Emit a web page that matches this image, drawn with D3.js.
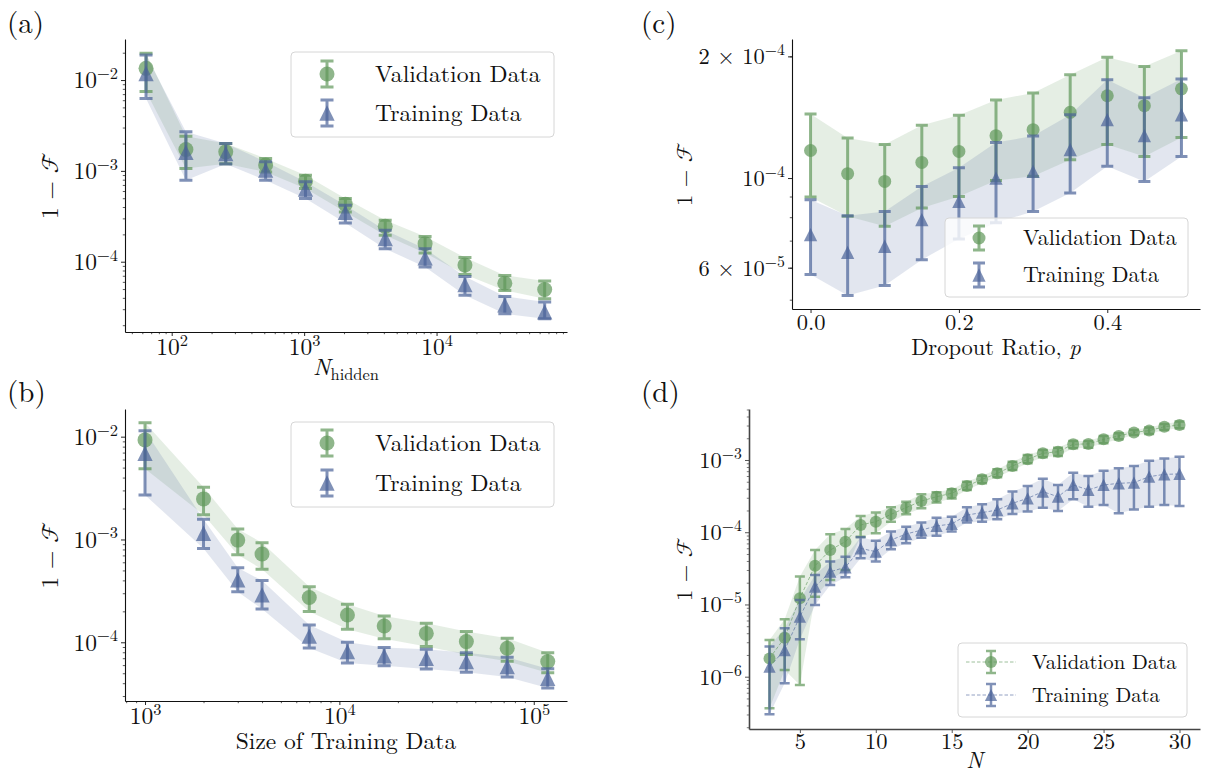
<!DOCTYPE html>
<html>
<head>
<meta charset="utf-8">
<script src="https://cdn.jsdelivr.net/npm/d3@7"></script>
<style>
  body { margin: 0; background: #fff; }
  svg { display: block; }
</style>
</head>
<body>
<svg id="fig" width="1206" height="776"></svg>
<script>
// ---------- (a) infidelity vs hidden-layer width ----------
const hiddenSizes  = [64, 128, 256, 512, 1024, 2048, 4096, 8192, 16384, 32768, 65536];
const hidValMean   = [1.345e-2, 1.72e-3, 1.62e-3, 1.16e-3, 7.7e-4, 4.3e-4, 2.45e-4, 1.58e-4, 9.2e-5, 5.8e-5, 4.95e-5];
const hidValLo     = [7.5e-3, 1.06e-3, 1.2e-3, 9.75e-4, 6.38e-4, 3.53e-4, 1.95e-4, 1.25e-4, 7.24e-5, 4.83e-5, 3.91e-5];
const hidValHi     = [1.97e-2, 2.4e-3, 2.0e-3, 1.37e-3, 8.96e-4, 4.95e-4, 2.86e-4, 1.9e-4, 1.11e-4, 7.07e-5, 6.12e-5];
const hidTrainMean = [1.18e-2, 1.6e-3, 1.55e-3, 1.02e-3, 6.3e-4, 3.5e-4, 1.8e-4, 1.1e-4, 5.6e-5, 3.35e-5, 2.8e-5];
const hidTrainLo   = [6.28e-3, 7.89e-4, 1.19e-3, 7.89e-4, 4.95e-4, 2.67e-4, 1.39e-4, 8.73e-5, 4.26e-5, 2.67e-5, 2.35e-5];
const hidTrainHi   = [1.89e-2, 2.69e-3, 2.0e-3, 1.26e-3, 7.57e-4, 4.18e-4, 2.22e-4, 1.39e-4, 6.89e-5, 4.15e-5, 3.59e-5];

// ---------- (b) infidelity vs training-set size ----------
const dataSizes     = [1000, 2000, 3000, 4000, 7000, 11000, 17000, 28000, 45000, 73000, 118000];
const sizeValMean   = [9.3e-3, 2.48e-3, 9.86e-4, 7.22e-4, 2.73e-4, 1.84e-4, 1.44e-4, 1.22e-4, 1.015e-4, 8.74e-5, 6.49e-5];
const sizeValLo     = [4.88e-3, 1.74e-3, 7.1e-4, 5.14e-4, 1.99e-4, 1.34e-4, 1.08e-4, 9.1e-5, 7.6e-5, 6.54e-5, 5.05e-5];
const sizeValHi     = [1.368e-2, 3.22e-3, 1.262e-3, 9.3e-4, 3.47e-4, 2.34e-4, 1.8e-4, 1.53e-4, 1.27e-4, 1.094e-4, 7.93e-5];
const sizeTrainMean = [6.89e-3, 1.15e-3, 4.04e-4, 2.89e-4, 1.15e-4, 8.11e-5, 7.36e-5, 6.98e-5, 6.48e-5, 5.8e-5, 4.47e-5];
const sizeTrainLo   = [2.71e-3, 8.17e-4, 3.1e-4, 2.11e-4, 8.8e-5, 6.3e-5, 5.9e-5, 5.5e-5, 5.1e-5, 4.6e-5, 3.6e-5];
const sizeTrainHi   = [1.143e-2, 1.57e-3, 5.32e-4, 3.98e-4, 1.47e-4, 1.0e-4, 8.9e-5, 8.54e-5, 7.93e-5, 7.14e-5, 5.54e-5];

// ---------- (c) infidelity vs dropout ratio ----------
const dropRatios    = [0, 0.05, 0.1, 0.15, 0.2, 0.25, 0.3, 0.35, 0.4, 0.45, 0.5];
const dropValMean   = [1.17e-4, 1.025e-4, 9.81e-5, 1.093e-4, 1.164e-4, 1.273e-4, 1.317e-4, 1.454e-4, 1.598e-4, 1.51e-4, 1.662e-4];
const dropValLo     = [8.97e-5, 8.04e-5, 7.6e-5, 8.43e-5, 9.0e-5, 9.86e-5, 1.01e-4, 1.11e-4, 1.21e-4, 1.13e-4, 1.26e-4];
const dropValHi     = [1.44e-4, 1.256e-4, 1.21e-4, 1.35e-4, 1.43e-4, 1.56e-4, 1.623e-4, 1.80e-4, 1.99e-4, 1.888e-4, 2.065e-4];
const dropTrainMean = [7.24e-5, 6.55e-5, 6.78e-5, 7.89e-5, 8.76e-5, 1.0e-4, 1.039e-4, 1.175e-4, 1.394e-4, 1.273e-4, 1.434e-4];
const dropTrainLo   = [5.77e-5, 5.12e-5, 5.42e-5, 6.28e-5, 7.07e-5, 7.75e-5, 8.27e-5, 9.18e-5, 1.069e-4, 9.81e-5, 1.131e-4];
const dropTrainHi   = [8.84e-5, 8.07e-5, 8.27e-5, 9.53e-5, 1.06e-4, 1.225e-4, 1.27e-4, 1.434e-4, 1.75e-4, 1.58e-4, 1.757e-4];

// ---------- (d) infidelity vs system size N ----------
const qubitCounts = [3, 4, 5, 6, 7, 8, 9, 10, 11, 12, 13, 14, 15, 16, 17, 18, 19, 20, 21, 22, 23, 24, 25, 26, 27, 28, 29, 30];
const nValMean = [1.79e-6, 3.47e-6, 1.22e-5, 3.44e-5, 5.67e-5, 7.41e-5, 1.26e-4, 1.40e-4, 1.77e-4, 2.19e-4, 2.7e-4, 3.1e-4, 3.46e-4, 4.36e-4,
                  5.4e-4, 6.53e-4, 8.26e-4, 1.02e-3, 1.24e-3, 1.30e-3, 1.65e-3, 1.67e-3, 1.93e-3, 2.15e-3, 2.41e-3, 2.55e-3, 2.89e-3, 3.05e-3];
const nValLo   = [3.65e-7, 1.24e-6, 7.67e-7, 1.28e-5, 2.18e-5, 3.0e-5, 8.69e-5, 9.66e-5, 1.40e-4, 1.77e-4, 2.14e-4, 2.57e-4, 2.92e-4, 3.84e-4,
                  4.75e-4, 5.75e-4, 7.27e-4, 8.99e-4, 1.09e-3, 1.14e-3, 1.45e-3, 1.48e-3, 1.70e-3, 1.93e-3, 2.22e-3, 2.29e-3, 2.60e-3, 2.74e-3];
const nValHi   = [3.22e-6, 6.22e-6, 2.43e-5, 5.67e-5, 9.35e-5, 1.11e-4, 1.68e-4, 1.87e-4, 2.21e-4, 2.65e-4, 3.35e-4, 3.57e-4, 3.93e-4, 5.01e-4,
                  6.07e-4, 7.43e-4, 9.48e-4, 1.17e-3, 1.37e-3, 1.48e-3, 1.83e-3, 1.83e-3, 2.15e-3, 2.34e-3, 2.60e-3, 2.81e-3, 3.15e-3, 3.40e-3];
const nTrainMean = [1.38e-6, 2.34e-6, 6.78e-6, 1.76e-5, 2.84e-5, 3.27e-5, 5.98e-5, 5.38e-5, 7.8e-5, 9.45e-5, 1.07e-4, 1.22e-4, 1.30e-4, 1.73e-4,
                    1.87e-4, 2.03e-4, 2.51e-4, 2.95e-4, 3.65e-4, 3.1e-4, 4.51e-4, 3.85e-4, 4.51e-4, 4.75e-4, 4.86e-4, 5.87e-4, 6.33e-4, 6.4e-4];
const nTrainLo   = [3.01e-7, 8.09e-7, 3.29e-6, 9.84e-6, 1.86e-5, 2.38e-5, 4.35e-5, 3.92e-5, 5.8e-5, 7.02e-5, 8.41e-5, 8.96e-5, 1.02e-4, 1.36e-4,
                    1.40e-4, 1.51e-4, 1.79e-4, 1.93e-4, 2.19e-4, 1.97e-4, 2.85e-4, 2.26e-4, 2.38e-4, 1.83e-4, 2.07e-4, 2.26e-4, 2.38e-4, 2.31e-4];
const nTrainHi   = [2.61e-6, 4.67e-6, 1.15e-5, 2.56e-5, 3.92e-5, 4.59e-5, 8.5e-5, 7.64e-5, 1.02e-4, 1.19e-4, 1.36e-4, 1.59e-4, 1.64e-4, 2.21e-4,
                    2.43e-4, 2.85e-4, 3.65e-4, 4.37e-4, 5.52e-4, 4.51e-4, 6.68e-4, 6.0e-4, 7.12e-4, 7.67e-4, 8.26e-4, 9.79e-4, 1.05e-3, 1.11e-3];

// ---------- tick values and labels ----------
const aXTicks = [1e2, 1e3, 1e4];          const aXTickLabels = [["10", "2"], ["10", "3"], ["10", "4"]];
const aYTicks = [1e-2, 1e-3, 1e-4];       const aYTickLabels = [["10", "−2"], ["10", "−3"], ["10", "−4"]];
const bXTicks = [1e3, 1e4, 1e5];          const bXTickLabels = [["10", "3"], ["10", "4"], ["10", "5"]];
const bYTicks = [1e-2, 1e-3, 1e-4];       const bYTickLabels = [["10", "−2"], ["10", "−3"], ["10", "−4"]];
const cXTicks = [0, 0.2, 0.4];            const cXTickLabels = [["0.0"], ["0.2"], ["0.4"]];
const cYTicks = [2e-4, 1e-4, 6e-5];       const cYTickLabels = [["2 × 10", "−4"], ["10", "−4"], ["6 × 10", "−5"]];
const dXTicks = [5, 10, 15, 20, 25, 30];  const dXTickLabels = [["5"], ["10"], ["15"], ["20"], ["25"], ["30"]];
const dYTicks = [1e-3, 1e-4, 1e-5, 1e-6]; const dYTickLabels = [["10", "−3"], ["10", "−4"], ["10", "−5"], ["10", "−6"]];

const seriesNames = ["Validation Data", "Training Data"];

// ---------- styling ----------
const SERIF = '"Latin Modern Roman", "Liberation Serif"';
const MATH = '"Latin Modern Math", "Latin Modern Roman", "DejaVu Serif"';
const GREEN = "#5f975a";
const BLUE = "#4a6299";
const svg = d3.select("#fig");

// minor ticks at 2..9 × 10^k inside a log domain
function logMinors(domain) {
  const lo = Math.min(...domain), hi = Math.max(...domain);
  const out = [];
  for (let k = Math.floor(Math.log10(lo)) - 1; k <= Math.ceil(Math.log10(hi)); k++) {
    for (let m = 2; m <= 9; m++) {
      const v = m * Math.pow(10, k);
      if (v >= lo && v <= hi) out.push(v);
    }
  }
  return out;
}

// writes "base" plus an optional raised exponent
function supText(sel, parts, size) {
  sel.append("tspan").text(parts[0]);
  if (parts[1]) {
    sel.append("tspan").attr("dy", -0.4 * size).attr("font-size", size * 0.7).text(parts[1]);
  }
}

function trianglePath(cx, cy, h) {
  return `M${cx},${cy - h}L${cx + h},${cy + h}L${cx - h},${cy + h}Z`;
}

function drawMarker(g, kind, cx, cy, r, color, op) {
  if (kind === "circle") {
    g.append("circle").attr("cx", cx).attr("cy", cy).attr("r", r)
      .attr("fill", color).attr("fill-opacity", op);
  } else {
    g.append("path").attr("d", trianglePath(cx, cy, r * 1.02))
      .attr("fill", color).attr("fill-opacity", op);
  }
}

function errPath(cx, y0, y1, cw) {
  return `M${cx},${y0}V${y1}M${cx - cw / 2},${y0}h${cw}M${cx - cw / 2},${y1}h${cw}`;
}

function serifText(parent) {
  return parent.append("text").attr("font-family", SERIF).attr("fill", "#111");
}

function drawPanel(c) {
  const g = svg.append("g");
  const x = (c.xLog ? d3.scaleLog() : d3.scaleLinear()).domain(c.xDomain).range([c.left, c.right]);
  const y = d3.scaleLog().domain(c.yDomain).range([c.bottom, c.top]);

  const clipId = "clip-" + c.key;
  svg.append("clipPath").attr("id", clipId).append("rect")
    .attr("x", c.left).attr("y", c.top).attr("width", c.right - c.left).attr("height", c.bottom - c.top);
  const plot = g.append("g").attr("clip-path", `url(#${clipId})`);

  const idx = d3.range(c.xs.length);

  // shaded spread bands
  c.series.forEach(s => {
    plot.append("path")
      .attr("d", d3.area().x(i => x(c.xs[i])).y0(i => y(s.lo[i])).y1(i => y(s.hi[i]))(idx))
      .attr("fill", s.color).attr("fill-opacity", c.fillOpacity);
  });

  // dashed guide lines through the means
  if (c.dashed) {
    c.series.forEach(s => {
      plot.append("path")
        .attr("d", d3.line().x(i => x(c.xs[i])).y(i => y(s.mean[i]))(idx))
        .attr("fill", "none").attr("stroke", s.color).attr("stroke-opacity", 0.6)
        .attr("stroke-width", 1).attr("stroke-dasharray", "3.5,2");
    });
  }

  // error bars and markers
  c.series.forEach(s => {
    const sg = plot.append("g");
    idx.forEach(i => {
      const cx = x(c.xs[i]);
      sg.append("path").attr("d", errPath(cx, y(s.lo[i]), y(s.hi[i]), c.capW))
        .attr("fill", "none").attr("stroke", s.color).attr("stroke-opacity", 0.7)
        .attr("stroke-width", c.barW);
      drawMarker(sg, s.marker, cx, y(s.mean[i]), c.markR, s.color, 0.7);
    });
  });

  // axes
  const spine = c.spineColor;
  const xa = g.append("g").attr("transform", `translate(0,${c.bottom})`)
    .call(d3.axisBottom(x).tickValues(c.xTicks).tickSize(4).tickSizeOuter(0).tickFormat(() => ""));
  const ya = g.append("g").attr("transform", `translate(${c.left},0)`)
    .call(d3.axisLeft(y).tickValues(c.yTicks).tickSize(4).tickSizeOuter(0).tickFormat(() => ""));
  if (c.xLog) {
    g.append("g").attr("transform", `translate(0,${c.bottom})`)
      .call(d3.axisBottom(x).tickValues(logMinors(c.xDomain)).tickSize(2.2).tickSizeOuter(0).tickFormat(() => ""))
      .call(a => a.select(".domain").remove())
      .selectAll("line").attr("stroke", spine).attr("stroke-width", 0.7);
  }
  g.append("g").attr("transform", `translate(${c.left},0)`)
    .call(d3.axisLeft(y).tickValues(logMinors(c.yDomain)).tickSize(2.2).tickSizeOuter(0).tickFormat(() => ""))
    .call(a => a.select(".domain").remove())
    .selectAll("line").attr("stroke", spine).attr("stroke-width", 0.7);

  [xa, ya].forEach(a => {
    a.attr("font-family", SERIF);
    a.select(".domain").attr("stroke", spine).attr("stroke-width", c.spineW);
    a.selectAll(".tick line").attr("stroke", spine).attr("stroke-width", 0.9);
  });

  const fs = c.fontSize;
  xa.selectAll(".tick").each(function (d, i) {
    const t = serifText(d3.select(this)).attr("y", c.xTickDy).attr("text-anchor", "middle").attr("font-size", fs);
    supText(t, c.xTickLabels[i], fs);
  });
  ya.selectAll(".tick").each(function (d, i) {
    const t = serifText(d3.select(this)).attr("x", -7).attr("y", fs * 0.33).attr("text-anchor", "end").attr("font-size", fs);
    supText(t, c.yTickLabels[i], fs);
  });

  // y label: 1 − F (calligraphic)
  const yl = serifText(g)
    .attr("transform", `translate(${c.yLabelX},${(c.top + c.bottom) / 2}) rotate(-90)`)
    .attr("text-anchor", "middle").attr("font-size", fs);
  yl.append("tspan").text("1 − ");
  yl.append("tspan").attr("font-family", MATH).text("ℱ");

  // x label
  const xl = serifText(g).attr("x", (c.left + c.right) / 2).attr("y", c.xLabelY)
    .attr("text-anchor", "middle").attr("font-size", fs);
  c.xLabel.forEach(p => {
    const ts = xl.append("tspan").text(p.t);
    if (p.it) ts.attr("font-style", "italic");
    if (p.sub) ts.attr("font-size", fs * 0.7).attr("dy", fs * 0.2);
  });

  // panel tag
  serifText(g).attr("x", c.tagX).attr("y", c.tagY).attr("font-size", 29).text(c.tag);

  // legend
  const L = c.legend;
  const lg = g.append("g");
  lg.append("rect").attr("x", L.x).attr("y", L.y).attr("width", L.w).attr("height", L.h)
    .attr("rx", 4).attr("fill", "#fff").attr("fill-opacity", 0.8)
    .attr("stroke", "#d6d6d6").attr("stroke-width", 1);
  c.series.forEach((s, k) => {
    const cy = L.y + L.rows[k];
    const mx = L.x + L.markX;
    if (c.dashed) {
      lg.append("line").attr("x1", L.x + L.lineX0).attr("x2", L.x + L.lineX1).attr("y1", cy).attr("y2", cy)
        .attr("stroke", s.color).attr("stroke-opacity", 0.6).attr("stroke-width", 1).attr("stroke-dasharray", "3.5,2");
    }
    lg.append("path").attr("d", errPath(mx, cy - L.barH, cy + L.barH, c.capW))
      .attr("fill", "none").attr("stroke", s.color).attr("stroke-opacity", 0.7).attr("stroke-width", c.barW);
    drawMarker(lg, s.marker, mx, cy, c.markR, s.color, 0.7);
    serifText(lg).attr("x", L.x + L.textX).attr("y", cy + L.fs * 0.33)
      .attr("font-size", L.fs).text(s.name);
  });
}

function makeSeries(vm, vl, vh, tm, tl, th) {
  return [
    { name: seriesNames[0], color: GREEN, marker: "circle", mean: vm, lo: vl, hi: vh },
    { name: seriesNames[1], color: BLUE, marker: "triangle", mean: tm, lo: tl, hi: th }
  ];
}

// (a)
drawPanel({
  key: "a", tag: "(a)", tagX: 7, tagY: 33,
  left: 125, right: 567, top: 39, bottom: 332,
  xLog: true, xDomain: [44.4, 96600], yDomain: [1.683e-5, 2.831e-2],
  xs: hiddenSizes,
  series: makeSeries(hidValMean, hidValLo, hidValHi, hidTrainMean, hidTrainLo, hidTrainHi),
  xTicks: aXTicks, xTickLabels: aXTickLabels, yTicks: aYTicks, yTickLabels: aYTickLabels,
  xLabel: [{ t: "N", it: true }, { t: "hidden", sub: true }],
  xLabelY: 375, xTickDy: 23, yLabelX: 58,
  fontSize: 23.5, fillOpacity: 0.16, capW: 13, barW: 3, markR: 7.5,
  spineColor: "#111", spineW: 1.1, dashed: false,
  legend: { x: 291, y: 52, w: 263, h: 85, rows: [22, 61], markX: 36, textX: 84, barH: 13, fs: 23.7 }
});

// (b)
drawPanel({
  key: "b", tag: "(b)", tagX: 7, tagY: 402,
  left: 125, right: 567, top: 409, bottom: 701,
  xLog: true, xDomain: [788.9, 148250], yDomain: [2.685e-5, 1.858e-2],
  xs: dataSizes,
  series: makeSeries(sizeValMean, sizeValLo, sizeValHi, sizeTrainMean, sizeTrainLo, sizeTrainHi),
  xTicks: bXTicks, xTickLabels: bXTickLabels, yTicks: bYTicks, yTickLabels: bYTickLabels,
  xLabel: [{ t: "Size of Training Data" }],
  xLabelY: 749, xTickDy: 23, yLabelX: 58,
  fontSize: 23.5, fillOpacity: 0.16, capW: 13, barW: 3, markR: 7.5,
  spineColor: "#111", spineW: 1.1, dashed: false,
  legend: { x: 291, y: 422, w: 263, h: 85, rows: [21, 61], markX: 36, textX: 84, barH: 13, fs: 23.7 }
});

// (c)
drawPanel({
  key: "c", tag: "(c)", tagX: 641, tagY: 33,
  left: 792, right: 1200, top: 39, bottom: 309,
  xLog: false, xDomain: [-0.025, 0.525], yDomain: [4.742e-5, 2.208e-4],
  xs: dropRatios,
  series: makeSeries(dropValMean, dropValLo, dropValHi, dropTrainMean, dropTrainLo, dropTrainHi),
  xTicks: cXTicks, xTickLabels: cXTickLabels, yTicks: cYTicks, yTickLabels: cYTickLabels,
  xLabel: [{ t: "Dropout Ratio, " }, { t: "p", it: true }],
  xLabelY: 355, xTickDy: 21, yLabelX: 692,
  fontSize: 22.5, fillOpacity: 0.16, capW: 12, barW: 3, markR: 6.5,
  spineColor: "#111", spineW: 1.1, dashed: false,
  legend: { x: 945, y: 218, w: 243, h: 79, rows: [20, 57], markX: 34, textX: 78, barH: 12, fs: 22 }
});

// (d)
drawPanel({
  key: "d", tag: "(d)", tagX: 641, tagY: 402,
  left: 749, right: 1200, top: 409, bottom: 729,
  xLog: false, xDomain: [1.65, 31.35], yDomain: [1.888e-7, 5.08e-3],
  xs: qubitCounts,
  series: makeSeries(nValMean, nValLo, nValHi, nTrainMean, nTrainLo, nTrainHi),
  xTicks: dXTicks, xTickLabels: dXTickLabels, yTicks: dYTicks, yTickLabels: dYTickLabels,
  xLabel: [{ t: "N", it: true }],
  xLabelY: 768, xTickDy: 20, yLabelX: 692,
  fontSize: 22.5, fillOpacity: 0.16, capW: 10, barW: 2.5, markR: 6,
  spineColor: "#444", spineW: 1.6, dashed: true,
  legend: { x: 958, y: 643, w: 229, h: 74, rows: [19, 52], markX: 33, textX: 74, lineX0: 8, lineX1: 58, barH: 11, fs: 20.7 }
});
</script>
</body>
</html>
